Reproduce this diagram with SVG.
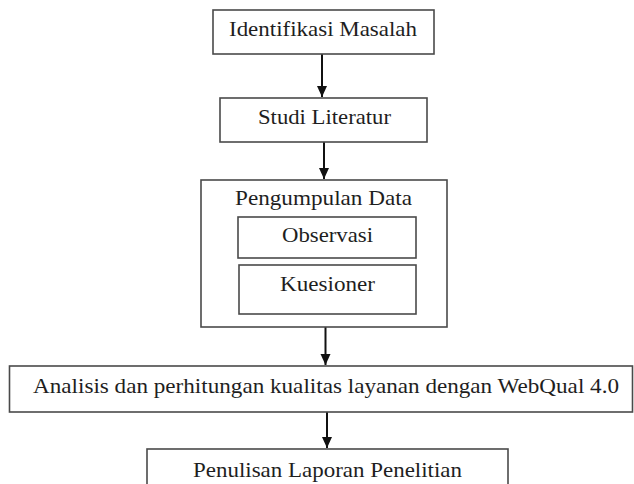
<svg xmlns="http://www.w3.org/2000/svg" width="634" height="484" viewBox="0 0 634 484">
<style>
.box{fill:#fff;stroke:#4a4a4a;stroke-width:1.6}
.lbl{font-family:"Liberation Serif","Times New Roman",serif;font-size:21px;fill:#1e1e1e}
.conn{stroke:#111;stroke-width:2;fill:none}
</style>
<defs>
<marker id="ah" markerUnits="userSpaceOnUse" markerWidth="12" markerHeight="12" viewBox="0 0 12 12" refX="11" refY="6" orient="auto">
<path d="M0,1 L11,6 L0,11 Z" fill="#111"/>
</marker>
</defs>
<rect width="634" height="484" fill="#fff"/>
<g id="connectors">
<line class="conn" x1="322" y1="54" x2="322" y2="97" marker-end="url(#ah)"/>
<line class="conn" x1="324" y1="142" x2="324" y2="179" marker-end="url(#ah)"/>
<line class="conn" x1="325.5" y1="327" x2="325.5" y2="365" marker-end="url(#ah)"/>
<line class="conn" x1="327" y1="412" x2="327" y2="448" marker-end="url(#ah)"/>
</g>
<g id="identifikasi">
<rect class="box" x="213" y="10" width="221" height="44"/>
<text class="lbl" x="229" y="36" textLength="188" lengthAdjust="spacingAndGlyphs">Identifikasi Masalah</text>
</g>
<g id="studi">
<rect class="box" x="220" y="98" width="207" height="44"/>
<text class="lbl" x="258" y="124" textLength="133" lengthAdjust="spacingAndGlyphs">Studi Literatur</text>
</g>
<g id="pengumpulan">
<rect class="box" x="201" y="180" width="246" height="147"/>
<text class="lbl" x="235" y="205" textLength="177" lengthAdjust="spacingAndGlyphs">Pengumpulan Data</text>
</g>
<g id="observasi">
<rect class="box" x="238" y="217" width="178" height="41"/>
<text class="lbl" x="282" y="242" textLength="91" lengthAdjust="spacingAndGlyphs">Observasi</text>
</g>
<g id="kuesioner">
<rect class="box" x="239" y="265" width="177" height="49"/>
<text class="lbl" x="280" y="291" textLength="95" lengthAdjust="spacingAndGlyphs">Kuesioner</text>
</g>
<g id="analisis">
<rect class="box" x="9.5" y="366" width="623" height="46"/>
<text class="lbl" x="33" y="393" textLength="586" lengthAdjust="spacingAndGlyphs">Analisis dan perhitungan kualitas layanan dengan WebQual 4.0</text>
</g>
<g id="penulisan">
<rect class="box" x="147" y="449" width="361" height="50"/>
<text class="lbl" x="193" y="477" textLength="269" lengthAdjust="spacingAndGlyphs">Penulisan Laporan Penelitian</text>
</g>
</svg>
